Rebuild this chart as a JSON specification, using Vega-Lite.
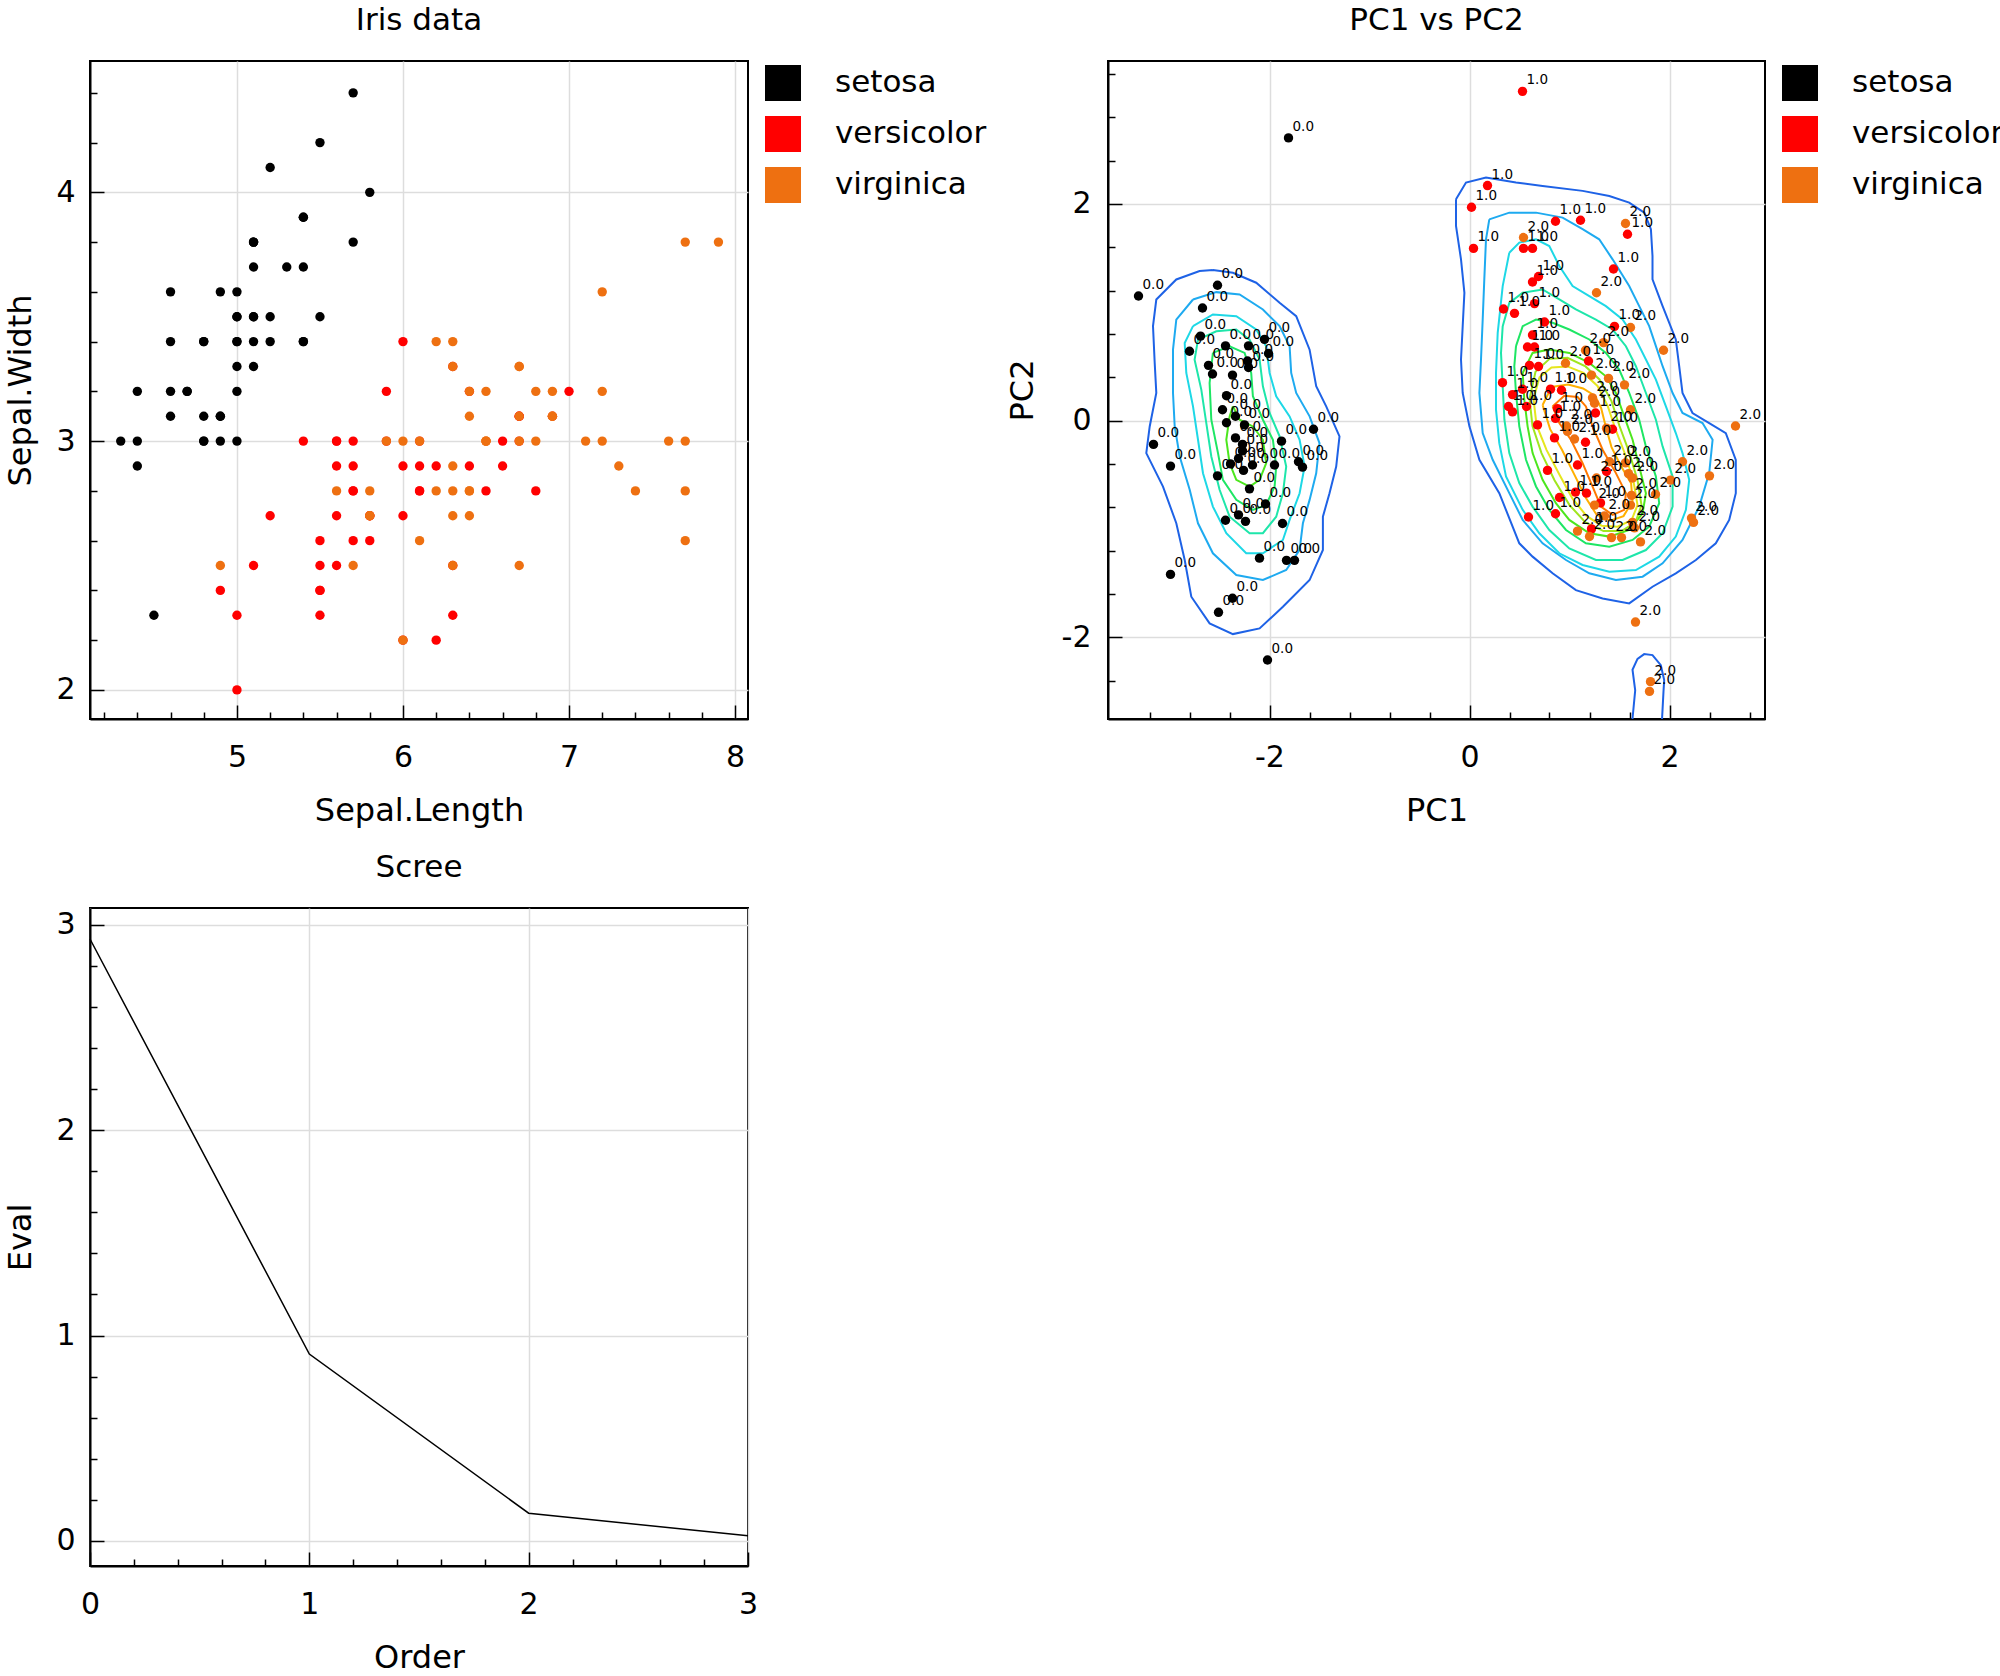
{
"$schema": "https://vega.github.io/schema/vega-lite/v6.json",
"padding": {"left": 3, "top": 4, "right": 0, "bottom": 0},
"background": "white",
"config": {
 "font": "DejaVu Sans",
 "view": {"stroke": "black", "strokeWidth": 2},
 "axis": {"labelFont": "DejaVu Sans", "titleFont": "DejaVu Sans", "labelFontSize": 30, "titleFontSize": 32, "titleFontWeight": "normal", "labelColor": "black", "titleColor": "black", "domainColor": "black", "domainWidth": 2, "tickColor": "black", "tickWidth": 1.5, "gridColor": "#dddddd", "gridWidth": 1.5, "labelFlush": false, "labelOverlap": false},
 "legend": {"symbolType": "square", "symbolSize": 1296, "labelFontSize": 31, "labelFont": "DejaVu Sans", "labelColor": "black", "offset": 13, "rowPadding": 15, "labelOffset": 34, "symbolStrokeWidth": 0, "padding": 4, "labelLimit": 400, "symbolOpacity": 1},
 "title": {"fontSize": 31, "fontWeight": "normal", "color": "black", "baseline": "alphabetic", "offset": 24, "font": "DejaVu Sans"}
},
"datasets": {
 "iris": [
  {"SepalLength":5.1,"SepalWidth":3.5,"Species":"setosa"},{"SepalLength":4.9,"SepalWidth":3.0,"Species":"setosa"},{"SepalLength":4.7,"SepalWidth":3.2,"Species":"setosa"},{"SepalLength":4.6,"SepalWidth":3.1,"Species":"setosa"},{"SepalLength":5.0,"SepalWidth":3.6,"Species":"setosa"},{"SepalLength":5.4,"SepalWidth":3.9,"Species":"setosa"},{"SepalLength":4.6,"SepalWidth":3.4,"Species":"setosa"},{"SepalLength":5.0,"SepalWidth":3.4,"Species":"setosa"},{"SepalLength":4.4,"SepalWidth":2.9,"Species":"setosa"},{"SepalLength":4.9,"SepalWidth":3.1,"Species":"setosa"},
  {"SepalLength":5.4,"SepalWidth":3.7,"Species":"setosa"},{"SepalLength":4.8,"SepalWidth":3.4,"Species":"setosa"},{"SepalLength":4.8,"SepalWidth":3.0,"Species":"setosa"},{"SepalLength":4.3,"SepalWidth":3.0,"Species":"setosa"},{"SepalLength":5.8,"SepalWidth":4.0,"Species":"setosa"},{"SepalLength":5.7,"SepalWidth":4.4,"Species":"setosa"},{"SepalLength":5.4,"SepalWidth":3.9,"Species":"setosa"},{"SepalLength":5.1,"SepalWidth":3.5,"Species":"setosa"},{"SepalLength":5.7,"SepalWidth":3.8,"Species":"setosa"},{"SepalLength":5.1,"SepalWidth":3.8,"Species":"setosa"},
  {"SepalLength":5.4,"SepalWidth":3.4,"Species":"setosa"},{"SepalLength":5.1,"SepalWidth":3.7,"Species":"setosa"},{"SepalLength":4.6,"SepalWidth":3.6,"Species":"setosa"},{"SepalLength":5.1,"SepalWidth":3.3,"Species":"setosa"},{"SepalLength":4.8,"SepalWidth":3.4,"Species":"setosa"},{"SepalLength":5.0,"SepalWidth":3.0,"Species":"setosa"},{"SepalLength":5.0,"SepalWidth":3.4,"Species":"setosa"},{"SepalLength":5.2,"SepalWidth":3.5,"Species":"setosa"},{"SepalLength":5.2,"SepalWidth":3.4,"Species":"setosa"},{"SepalLength":4.7,"SepalWidth":3.2,"Species":"setosa"},
  {"SepalLength":4.8,"SepalWidth":3.1,"Species":"setosa"},{"SepalLength":5.4,"SepalWidth":3.4,"Species":"setosa"},{"SepalLength":5.2,"SepalWidth":4.1,"Species":"setosa"},{"SepalLength":5.5,"SepalWidth":4.2,"Species":"setosa"},{"SepalLength":4.9,"SepalWidth":3.1,"Species":"setosa"},{"SepalLength":5.0,"SepalWidth":3.2,"Species":"setosa"},{"SepalLength":5.5,"SepalWidth":3.5,"Species":"setosa"},{"SepalLength":4.9,"SepalWidth":3.6,"Species":"setosa"},{"SepalLength":4.4,"SepalWidth":3.0,"Species":"setosa"},{"SepalLength":5.1,"SepalWidth":3.4,"Species":"setosa"},
  {"SepalLength":5.0,"SepalWidth":3.5,"Species":"setosa"},{"SepalLength":4.5,"SepalWidth":2.3,"Species":"setosa"},{"SepalLength":4.4,"SepalWidth":3.2,"Species":"setosa"},{"SepalLength":5.0,"SepalWidth":3.5,"Species":"setosa"},{"SepalLength":5.1,"SepalWidth":3.8,"Species":"setosa"},{"SepalLength":4.8,"SepalWidth":3.0,"Species":"setosa"},{"SepalLength":5.1,"SepalWidth":3.8,"Species":"setosa"},{"SepalLength":4.6,"SepalWidth":3.2,"Species":"setosa"},{"SepalLength":5.3,"SepalWidth":3.7,"Species":"setosa"},{"SepalLength":5.0,"SepalWidth":3.3,"Species":"setosa"},
  {"SepalLength":7.0,"SepalWidth":3.2,"Species":"versicolor"},{"SepalLength":6.4,"SepalWidth":3.2,"Species":"versicolor"},{"SepalLength":6.9,"SepalWidth":3.1,"Species":"versicolor"},{"SepalLength":5.5,"SepalWidth":2.3,"Species":"versicolor"},{"SepalLength":6.5,"SepalWidth":2.8,"Species":"versicolor"},{"SepalLength":5.7,"SepalWidth":2.8,"Species":"versicolor"},{"SepalLength":6.3,"SepalWidth":3.3,"Species":"versicolor"},{"SepalLength":4.9,"SepalWidth":2.4,"Species":"versicolor"},{"SepalLength":6.6,"SepalWidth":2.9,"Species":"versicolor"},{"SepalLength":5.2,"SepalWidth":2.7,"Species":"versicolor"},
  {"SepalLength":5.0,"SepalWidth":2.0,"Species":"versicolor"},{"SepalLength":5.9,"SepalWidth":3.0,"Species":"versicolor"},{"SepalLength":6.0,"SepalWidth":2.2,"Species":"versicolor"},{"SepalLength":6.1,"SepalWidth":2.9,"Species":"versicolor"},{"SepalLength":5.6,"SepalWidth":2.9,"Species":"versicolor"},{"SepalLength":6.7,"SepalWidth":3.1,"Species":"versicolor"},{"SepalLength":5.6,"SepalWidth":3.0,"Species":"versicolor"},{"SepalLength":5.8,"SepalWidth":2.7,"Species":"versicolor"},{"SepalLength":6.2,"SepalWidth":2.2,"Species":"versicolor"},{"SepalLength":5.6,"SepalWidth":2.5,"Species":"versicolor"},
  {"SepalLength":5.9,"SepalWidth":3.2,"Species":"versicolor"},{"SepalLength":6.1,"SepalWidth":2.8,"Species":"versicolor"},{"SepalLength":6.3,"SepalWidth":2.5,"Species":"versicolor"},{"SepalLength":6.1,"SepalWidth":2.8,"Species":"versicolor"},{"SepalLength":6.4,"SepalWidth":2.9,"Species":"versicolor"},{"SepalLength":6.6,"SepalWidth":3.0,"Species":"versicolor"},{"SepalLength":6.8,"SepalWidth":2.8,"Species":"versicolor"},{"SepalLength":6.7,"SepalWidth":3.0,"Species":"versicolor"},{"SepalLength":6.0,"SepalWidth":2.9,"Species":"versicolor"},{"SepalLength":5.7,"SepalWidth":2.6,"Species":"versicolor"},
  {"SepalLength":5.5,"SepalWidth":2.4,"Species":"versicolor"},{"SepalLength":5.5,"SepalWidth":2.4,"Species":"versicolor"},{"SepalLength":5.8,"SepalWidth":2.7,"Species":"versicolor"},{"SepalLength":6.0,"SepalWidth":2.7,"Species":"versicolor"},{"SepalLength":5.4,"SepalWidth":3.0,"Species":"versicolor"},{"SepalLength":6.0,"SepalWidth":3.4,"Species":"versicolor"},{"SepalLength":6.7,"SepalWidth":3.1,"Species":"versicolor"},{"SepalLength":6.3,"SepalWidth":2.3,"Species":"versicolor"},{"SepalLength":5.6,"SepalWidth":3.0,"Species":"versicolor"},{"SepalLength":5.5,"SepalWidth":2.5,"Species":"versicolor"},
  {"SepalLength":5.5,"SepalWidth":2.6,"Species":"versicolor"},{"SepalLength":6.1,"SepalWidth":3.0,"Species":"versicolor"},{"SepalLength":5.8,"SepalWidth":2.6,"Species":"versicolor"},{"SepalLength":5.0,"SepalWidth":2.3,"Species":"versicolor"},{"SepalLength":5.6,"SepalWidth":2.7,"Species":"versicolor"},{"SepalLength":5.7,"SepalWidth":3.0,"Species":"versicolor"},{"SepalLength":5.7,"SepalWidth":2.9,"Species":"versicolor"},{"SepalLength":6.2,"SepalWidth":2.9,"Species":"versicolor"},{"SepalLength":5.1,"SepalWidth":2.5,"Species":"versicolor"},{"SepalLength":5.7,"SepalWidth":2.8,"Species":"versicolor"},
  {"SepalLength":6.3,"SepalWidth":3.3,"Species":"virginica"},{"SepalLength":5.8,"SepalWidth":2.7,"Species":"virginica"},{"SepalLength":7.1,"SepalWidth":3.0,"Species":"virginica"},{"SepalLength":6.3,"SepalWidth":2.9,"Species":"virginica"},{"SepalLength":6.5,"SepalWidth":3.0,"Species":"virginica"},{"SepalLength":7.6,"SepalWidth":3.0,"Species":"virginica"},{"SepalLength":4.9,"SepalWidth":2.5,"Species":"virginica"},{"SepalLength":7.3,"SepalWidth":2.9,"Species":"virginica"},{"SepalLength":6.7,"SepalWidth":2.5,"Species":"virginica"},{"SepalLength":7.2,"SepalWidth":3.6,"Species":"virginica"},
  {"SepalLength":6.5,"SepalWidth":3.2,"Species":"virginica"},{"SepalLength":6.4,"SepalWidth":2.7,"Species":"virginica"},{"SepalLength":6.8,"SepalWidth":3.0,"Species":"virginica"},{"SepalLength":5.7,"SepalWidth":2.5,"Species":"virginica"},{"SepalLength":5.8,"SepalWidth":2.8,"Species":"virginica"},{"SepalLength":6.4,"SepalWidth":3.2,"Species":"virginica"},{"SepalLength":6.5,"SepalWidth":3.0,"Species":"virginica"},{"SepalLength":7.7,"SepalWidth":3.8,"Species":"virginica"},{"SepalLength":7.7,"SepalWidth":2.6,"Species":"virginica"},{"SepalLength":6.0,"SepalWidth":2.2,"Species":"virginica"},
  {"SepalLength":6.9,"SepalWidth":3.2,"Species":"virginica"},{"SepalLength":5.6,"SepalWidth":2.8,"Species":"virginica"},{"SepalLength":7.7,"SepalWidth":2.8,"Species":"virginica"},{"SepalLength":6.3,"SepalWidth":2.7,"Species":"virginica"},{"SepalLength":6.7,"SepalWidth":3.3,"Species":"virginica"},{"SepalLength":7.2,"SepalWidth":3.2,"Species":"virginica"},{"SepalLength":6.2,"SepalWidth":2.8,"Species":"virginica"},{"SepalLength":6.1,"SepalWidth":3.0,"Species":"virginica"},{"SepalLength":6.4,"SepalWidth":2.8,"Species":"virginica"},{"SepalLength":7.2,"SepalWidth":3.0,"Species":"virginica"},
  {"SepalLength":7.4,"SepalWidth":2.8,"Species":"virginica"},{"SepalLength":7.9,"SepalWidth":3.8,"Species":"virginica"},{"SepalLength":6.4,"SepalWidth":2.8,"Species":"virginica"},{"SepalLength":6.3,"SepalWidth":2.8,"Species":"virginica"},{"SepalLength":6.1,"SepalWidth":2.6,"Species":"virginica"},{"SepalLength":7.7,"SepalWidth":3.0,"Species":"virginica"},{"SepalLength":6.3,"SepalWidth":3.4,"Species":"virginica"},{"SepalLength":6.4,"SepalWidth":3.1,"Species":"virginica"},{"SepalLength":6.0,"SepalWidth":3.0,"Species":"virginica"},{"SepalLength":6.9,"SepalWidth":3.1,"Species":"virginica"},
  {"SepalLength":6.7,"SepalWidth":3.1,"Species":"virginica"},{"SepalLength":6.9,"SepalWidth":3.1,"Species":"virginica"},{"SepalLength":5.8,"SepalWidth":2.7,"Species":"virginica"},{"SepalLength":6.8,"SepalWidth":3.2,"Species":"virginica"},{"SepalLength":6.7,"SepalWidth":3.3,"Species":"virginica"},{"SepalLength":6.7,"SepalWidth":3.0,"Species":"virginica"},{"SepalLength":6.3,"SepalWidth":2.5,"Species":"virginica"},{"SepalLength":6.5,"SepalWidth":3.0,"Species":"virginica"},{"SepalLength":6.2,"SepalWidth":3.4,"Species":"virginica"},{"SepalLength":5.9,"SepalWidth":3.0,"Species":"virginica"}
 ],
 "pca": [
  {"PC1":-3.31,"PC2":1.15,"Species":"setosa","code":"0.0"},{"PC1":-2.52,"PC2":1.25,"Species":"setosa","code":"0.0"},{"PC1":-2.67,"PC2":1.04,"Species":"setosa","code":"0.0"},{"PC1":-2.69,"PC2":0.78,"Species":"setosa","code":"0.0"},{"PC1":-2.80,"PC2":0.64,"Species":"setosa","code":"0.0"},{"PC1":-2.44,"PC2":0.69,"Species":"setosa","code":"0.0"},{"PC1":-2.21,"PC2":0.69,"Species":"setosa","code":"0.0"},{"PC1":-2.05,"PC2":0.75,"Species":"setosa","code":"0.0"},{"PC1":-2.01,"PC2":0.62,"Species":"setosa","code":"0.0"},{"PC1":-2.22,"PC2":0.55,"Species":"setosa","code":"0.0"},
  {"PC1":-2.21,"PC2":0.49,"Species":"setosa","code":"0.0"},{"PC1":-2.61,"PC2":0.51,"Species":"setosa","code":"0.0"},{"PC1":-2.57,"PC2":0.43,"Species":"setosa","code":"0.0"},{"PC1":-2.37,"PC2":0.42,"Species":"setosa","code":"0.0"},{"PC1":-2.43,"PC2":0.23,"Species":"setosa","code":"0.0"},{"PC1":-2.47,"PC2":0.10,"Species":"setosa","code":"0.0"},{"PC1":-2.34,"PC2":0.04,"Species":"setosa","code":"0.0"},{"PC1":-2.43,"PC2":-0.02,"Species":"setosa","code":"0.0"},{"PC1":-2.25,"PC2":-0.04,"Species":"setosa","code":"0.0"},{"PC1":-2.34,"PC2":-0.16,"Species":"setosa","code":"0.0"},
  {"PC1":-2.27,"PC2":-0.22,"Species":"setosa","code":"0.0"},{"PC1":-2.27,"PC2":-0.28,"Species":"setosa","code":"0.0"},{"PC1":-2.31,"PC2":-0.35,"Species":"setosa","code":"0.0"},{"PC1":-2.39,"PC2":-0.40,"Species":"setosa","code":"0.0"},{"PC1":-2.17,"PC2":-0.41,"Species":"setosa","code":"0.0"},{"PC1":-2.26,"PC2":-0.46,"Species":"setosa","code":"0.0"},{"PC1":-1.95,"PC2":-0.41,"Species":"setosa","code":"0.0"},{"PC1":-1.88,"PC2":-0.19,"Species":"setosa","code":"0.0"},{"PC1":-1.71,"PC2":-0.38,"Species":"setosa","code":"0.0"},{"PC1":-1.67,"PC2":-0.43,"Species":"setosa","code":"0.0"},
  {"PC1":-1.56,"PC2":-0.08,"Species":"setosa","code":"0.0"},{"PC1":-3.16,"PC2":-0.22,"Species":"setosa","code":"0.0"},{"PC1":-2.99,"PC2":-0.42,"Species":"setosa","code":"0.0"},{"PC1":-2.52,"PC2":-0.51,"Species":"setosa","code":"0.0"},{"PC1":-2.20,"PC2":-0.63,"Species":"setosa","code":"0.0"},{"PC1":-2.04,"PC2":-0.77,"Species":"setosa","code":"0.0"},{"PC1":-2.31,"PC2":-0.87,"Species":"setosa","code":"0.0"},{"PC1":-2.24,"PC2":-0.93,"Species":"setosa","code":"0.0"},{"PC1":-2.44,"PC2":-0.92,"Species":"setosa","code":"0.0"},{"PC1":-1.87,"PC2":-0.95,"Species":"setosa","code":"0.0"},
  {"PC1":-2.10,"PC2":-1.27,"Species":"setosa","code":"0.0"},{"PC1":-1.83,"PC2":-1.29,"Species":"setosa","code":"0.0"},{"PC1":-1.75,"PC2":-1.29,"Species":"setosa","code":"0.0"},{"PC1":-2.99,"PC2":-1.42,"Species":"setosa","code":"0.0"},{"PC1":-2.37,"PC2":-1.64,"Species":"setosa","code":"0.0"},{"PC1":-2.51,"PC2":-1.77,"Species":"setosa","code":"0.0"},{"PC1":-2.02,"PC2":-2.21,"Species":"setosa","code":"0.0"},{"PC1":-1.81,"PC2":2.61,"Species":"setosa","code":"0.0"},
  {"PC1":0.53,"PC2":3.04,"Species":"versicolor","code":"1.0"},{"PC1":0.18,"PC2":2.17,"Species":"versicolor","code":"1.0"},{"PC1":0.02,"PC2":1.97,"Species":"versicolor","code":"1.0"},{"PC1":0.04,"PC2":1.59,"Species":"versicolor","code":"1.0"},{"PC1":0.86,"PC2":1.84,"Species":"versicolor","code":"1.0"},{"PC1":1.11,"PC2":1.85,"Species":"versicolor","code":"1.0"},{"PC1":1.58,"PC2":1.72,"Species":"versicolor","code":"1.0"},{"PC1":0.54,"PC2":1.59,"Species":"versicolor","code":"1.0"},{"PC1":0.63,"PC2":1.59,"Species":"versicolor","code":"1.0"},{"PC1":1.44,"PC2":1.40,"Species":"versicolor","code":"1.0"},
  {"PC1":0.69,"PC2":1.33,"Species":"versicolor","code":"1.0"},{"PC1":0.63,"PC2":1.28,"Species":"versicolor","code":"1.0"},{"PC1":0.34,"PC2":1.03,"Species":"versicolor","code":"1.0"},{"PC1":0.45,"PC2":0.99,"Species":"versicolor","code":"1.0"},{"PC1":0.65,"PC2":1.08,"Species":"versicolor","code":"1.0"},{"PC1":0.75,"PC2":0.91,"Species":"versicolor","code":"1.0"},{"PC1":1.45,"PC2":0.87,"Species":"versicolor","code":"1.0"},{"PC1":0.63,"PC2":0.79,"Species":"versicolor","code":"1.0"},{"PC1":0.58,"PC2":0.68,"Species":"versicolor","code":"1.0"},{"PC1":0.65,"PC2":0.68,"Species":"versicolor","code":"1.0"},
  {"PC1":1.19,"PC2":0.55,"Species":"versicolor","code":"1.0"},{"PC1":0.60,"PC2":0.51,"Species":"versicolor","code":"1.0"},{"PC1":0.69,"PC2":0.50,"Species":"versicolor","code":"1.0"},{"PC1":0.33,"PC2":0.35,"Species":"versicolor","code":"1.0"},{"PC1":0.53,"PC2":0.29,"Species":"versicolor","code":"1.0"},{"PC1":0.81,"PC2":0.29,"Species":"versicolor","code":"1.0"},{"PC1":0.92,"PC2":0.28,"Species":"versicolor","code":"1.0"},{"PC1":0.43,"PC2":0.24,"Species":"versicolor","code":"1.0"},{"PC1":0.39,"PC2":0.13,"Species":"versicolor","code":"1.0"},{"PC1":0.57,"PC2":0.13,"Species":"versicolor","code":"1.0"},
  {"PC1":0.88,"PC2":0.11,"Species":"versicolor","code":"1.0"},{"PC1":0.43,"PC2":0.08,"Species":"versicolor","code":"1.0"},{"PC1":1.26,"PC2":0.07,"Species":"versicolor","code":"1.0"},{"PC1":0.86,"PC2":0.02,"Species":"versicolor","code":"1.0"},{"PC1":0.68,"PC2":-0.04,"Species":"versicolor","code":"1.0"},{"PC1":1.43,"PC2":-0.08,"Species":"versicolor","code":"1.0"},{"PC1":0.85,"PC2":-0.16,"Species":"versicolor","code":"1.0"},{"PC1":1.16,"PC2":-0.20,"Species":"versicolor","code":"1.0"},{"PC1":0.78,"PC2":-0.46,"Species":"versicolor","code":"1.0"},{"PC1":1.37,"PC2":-0.47,"Species":"versicolor","code":"1.0"},
  {"PC1":1.08,"PC2":-0.41,"Species":"versicolor","code":"1.0"},{"PC1":1.06,"PC2":-0.66,"Species":"versicolor","code":"1.0"},{"PC1":1.17,"PC2":-0.67,"Species":"versicolor","code":"1.0"},{"PC1":0.90,"PC2":-0.71,"Species":"versicolor","code":"1.0"},{"PC1":1.31,"PC2":-0.76,"Species":"versicolor","code":"1.0"},{"PC1":0.86,"PC2":-0.86,"Species":"versicolor","code":"1.0"},{"PC1":0.59,"PC2":-0.89,"Species":"versicolor","code":"1.0"},{"PC1":1.22,"PC2":-1.00,"Species":"versicolor","code":"1.0"},
  {"PC1":1.56,"PC2":1.82,"Species":"virginica","code":"2.0"},{"PC1":0.54,"PC2":1.69,"Species":"virginica","code":"2.0"},{"PC1":1.27,"PC2":1.18,"Species":"virginica","code":"2.0"},{"PC1":1.61,"PC2":0.86,"Species":"virginica","code":"2.0"},{"PC1":1.34,"PC2":0.72,"Species":"virginica","code":"2.0"},{"PC1":1.94,"PC2":0.65,"Species":"virginica","code":"2.0"},{"PC1":1.16,"PC2":0.65,"Species":"virginica","code":"2.0"},{"PC1":0.96,"PC2":0.53,"Species":"virginica","code":"2.0"},{"PC1":1.22,"PC2":0.42,"Species":"virginica","code":"2.0"},{"PC1":1.39,"PC2":0.39,"Species":"virginica","code":"2.0"},
  {"PC1":1.55,"PC2":0.33,"Species":"virginica","code":"2.0"},{"PC1":1.23,"PC2":0.21,"Species":"virginica","code":"2.0"},{"PC1":1.25,"PC2":0.16,"Species":"virginica","code":"2.0"},{"PC1":1.61,"PC2":0.10,"Species":"virginica","code":"2.0"},{"PC1":2.66,"PC2":-0.05,"Species":"virginica","code":"2.0"},{"PC1":0.97,"PC2":-0.05,"Species":"virginica","code":"2.0"},{"PC1":0.98,"PC2":-0.10,"Species":"virginica","code":"2.0"},{"PC1":1.37,"PC2":-0.07,"Species":"virginica","code":"2.0"},{"PC1":1.05,"PC2":-0.17,"Species":"virginica","code":"2.0"},{"PC1":2.13,"PC2":-0.38,"Species":"virginica","code":"2.0"},
  {"PC1":1.40,"PC2":-0.38,"Species":"virginica","code":"2.0"},{"PC1":1.56,"PC2":-0.39,"Species":"virginica","code":"2.0"},{"PC1":1.59,"PC2":-0.49,"Species":"virginica","code":"2.0"},{"PC1":1.63,"PC2":-0.53,"Species":"virginica","code":"2.0"},{"PC1":2.40,"PC2":-0.51,"Species":"virginica","code":"2.0"},{"PC1":1.27,"PC2":-0.53,"Species":"virginica","code":"2.0"},{"PC1":2.01,"PC2":-0.55,"Species":"virginica","code":"2.0"},{"PC1":1.86,"PC2":-0.68,"Species":"virginica","code":"2.0"},{"PC1":1.62,"PC2":-0.69,"Species":"virginica","code":"2.0"},{"PC1":1.25,"PC2":-0.78,"Species":"virginica","code":"2.0"},
  {"PC1":1.61,"PC2":-0.78,"Species":"virginica","code":"2.0"},{"PC1":1.35,"PC2":-0.88,"Species":"virginica","code":"2.0"},{"PC1":2.22,"PC2":-0.90,"Species":"virginica","code":"2.0"},{"PC1":2.24,"PC2":-0.94,"Species":"virginica","code":"2.0"},{"PC1":1.63,"PC2":-0.94,"Species":"virginica","code":"2.0"},{"PC1":1.65,"PC2":-0.99,"Species":"virginica","code":"2.0"},{"PC1":1.08,"PC2":-1.02,"Species":"virginica","code":"2.0"},{"PC1":1.20,"PC2":-1.07,"Species":"virginica","code":"2.0"},{"PC1":1.42,"PC2":-1.08,"Species":"virginica","code":"2.0"},{"PC1":1.52,"PC2":-1.08,"Species":"virginica","code":"2.0"},
  {"PC1":1.71,"PC2":-1.12,"Species":"virginica","code":"2.0"},{"PC1":1.66,"PC2":-1.86,"Species":"virginica","code":"2.0"},{"PC1":1.81,"PC2":-2.41,"Species":"virginica","code":"2.0"},{"PC1":1.80,"PC2":-2.50,"Species":"virginica","code":"2.0"}
 ],
 "contours": [
  {"c":"s1","lv":"1","x":-2.566,"y":1.390},{"c":"s1","lv":"1","x":-2.366,"y":1.365},{"c":"s1","lv":"1","x":-2.133,"y":1.273},{"c":"s1","lv":"1","x":-1.899,"y":1.088},{"c":"s1","lv":"1","x":-1.733,"y":0.964},{"c":"s1","lv":"1","x":-1.599,"y":0.655},{"c":"s1","lv":"1","x":-1.533,"y":0.317},{"c":"s1","lv":"1","x":-1.433,"y":0.132},{"c":"s1","lv":"1","x":-1.300,"y":-0.146},{"c":"s1","lv":"1","x":-1.333,"y":-0.424},{"c":"s1","lv":"1","x":-1.400,"y":-0.671},{"c":"s1","lv":"1","x":-1.466,"y":-0.887},{"c":"s1","lv":"1","x":-1.466,"y":-1.194},{"c":"s1","lv":"1","x":-1.599,"y":-1.472},{"c":"s1","lv":"1","x":-1.866,"y":-1.719},{"c":"s1","lv":"1","x":-2.099,"y":-1.919},{"c":"s1","lv":"1","x":-2.366,"y":-1.971},{"c":"s1","lv":"1","x":-2.599,"y":-1.872},{"c":"s1","lv":"1","x":-2.782,"y":-1.626},{"c":"s1","lv":"1","x":-2.848,"y":-1.287},{"c":"s1","lv":"1","x":-2.932,"y":-0.948},{"c":"s1","lv":"1","x":-3.065,"y":-0.609},{"c":"s1","lv":"1","x":-3.232,"y":-0.300},{"c":"s1","lv":"1","x":-3.198,"y":-0.054},{"c":"s1","lv":"1","x":-3.132,"y":0.255},{"c":"s1","lv":"1","x":-3.148,"y":0.533},{"c":"s1","lv":"1","x":-3.165,"y":0.872},{"c":"s1","lv":"1","x":-3.132,"y":1.118},{"c":"s1","lv":"1","x":-2.932,"y":1.303},{"c":"s1","lv":"1","x":-2.699,"y":1.381},{"c":"s1","lv":"1","x":-2.566,"y":1.390},
  {"c":"s2","lv":"2","x":-2.765,"y":1.118},{"c":"s2","lv":"2","x":-2.532,"y":1.186},{"c":"s2","lv":"2","x":-2.299,"y":1.165},{"c":"s2","lv":"2","x":-2.066,"y":1.026},{"c":"s2","lv":"2","x":-1.899,"y":0.872},{"c":"s2","lv":"2","x":-1.799,"y":0.686},{"c":"s2","lv":"2","x":-1.783,"y":0.440},{"c":"s2","lv":"2","x":-1.733,"y":0.255},{"c":"s2","lv":"2","x":-1.599,"y":0.039},{"c":"s2","lv":"2","x":-1.500,"y":-0.208},{"c":"s2","lv":"2","x":-1.533,"y":-0.486},{"c":"s2","lv":"2","x":-1.599,"y":-0.732},{"c":"s2","lv":"2","x":-1.666,"y":-0.948},{"c":"s2","lv":"2","x":-1.699,"y":-1.194},{"c":"s2","lv":"2","x":-1.833,"y":-1.379},{"c":"s2","lv":"2","x":-2.066,"y":-1.472},{"c":"s2","lv":"2","x":-2.332,"y":-1.426},{"c":"s2","lv":"2","x":-2.566,"y":-1.225},{"c":"s2","lv":"2","x":-2.715,"y":-0.948},{"c":"s2","lv":"2","x":-2.798,"y":-0.639},{"c":"s2","lv":"2","x":-2.898,"y":-0.331},{"c":"s2","lv":"2","x":-2.948,"y":-0.054},{"c":"s2","lv":"2","x":-2.965,"y":0.255},{"c":"s2","lv":"2","x":-2.965,"y":0.655},{"c":"s2","lv":"2","x":-2.932,"y":0.933},{"c":"s2","lv":"2","x":-2.765,"y":1.118},
  {"c":"s3","lv":"3","x":-2.765,"y":0.872},{"c":"s3","lv":"3","x":-2.566,"y":0.980},{"c":"s3","lv":"3","x":-2.332,"y":0.964},{"c":"s3","lv":"3","x":-2.133,"y":0.841},{"c":"s3","lv":"3","x":-2.033,"y":0.686},{"c":"s3","lv":"3","x":-1.999,"y":0.440},{"c":"s3","lv":"3","x":-1.933,"y":0.225},{"c":"s3","lv":"3","x":-1.799,"y":0.039},{"c":"s3","lv":"3","x":-1.699,"y":-0.177},{"c":"s3","lv":"3","x":-1.649,"y":-0.424},{"c":"s3","lv":"3","x":-1.699,"y":-0.671},{"c":"s3","lv":"3","x":-1.799,"y":-0.917},{"c":"s3","lv":"3","x":-1.866,"y":-1.102},{"c":"s3","lv":"3","x":-2.066,"y":-1.225},{"c":"s3","lv":"3","x":-2.233,"y":-1.225},{"c":"s3","lv":"3","x":-2.432,"y":-1.040},{"c":"s3","lv":"3","x":-2.566,"y":-0.794},{"c":"s3","lv":"3","x":-2.665,"y":-0.486},{"c":"s3","lv":"3","x":-2.715,"y":-0.177},{"c":"s3","lv":"3","x":-2.765,"y":0.132},{"c":"s3","lv":"3","x":-2.832,"y":0.440},{"c":"s3","lv":"3","x":-2.848,"y":0.717},{"c":"s3","lv":"3","x":-2.765,"y":0.872},
  {"c":"s4","lv":"4","x":-2.715,"y":0.748},{"c":"s4","lv":"4","x":-2.532,"y":0.825},{"c":"s4","lv":"4","x":-2.332,"y":0.841},{"c":"s4","lv":"4","x":-2.199,"y":0.748},{"c":"s4","lv":"4","x":-2.099,"y":0.563},{"c":"s4","lv":"4","x":-2.066,"y":0.317},{"c":"s4","lv":"4","x":-1.999,"y":0.070},{"c":"s4","lv":"4","x":-1.899,"y":-0.146},{"c":"s4","lv":"4","x":-1.833,"y":-0.424},{"c":"s4","lv":"4","x":-1.866,"y":-0.671},{"c":"s4","lv":"4","x":-1.933,"y":-0.887},{"c":"s4","lv":"4","x":-2.066,"y":-1.040},{"c":"s4","lv":"4","x":-2.199,"y":-1.040},{"c":"s4","lv":"4","x":-2.399,"y":-0.887},{"c":"s4","lv":"4","x":-2.499,"y":-0.639},{"c":"s4","lv":"4","x":-2.582,"y":-0.331},{"c":"s4","lv":"4","x":-2.632,"y":-0.024},{"c":"s4","lv":"4","x":-2.682,"y":0.286},{"c":"s4","lv":"4","x":-2.749,"y":0.563},{"c":"s4","lv":"4","x":-2.715,"y":0.748},
  {"c":"s5","lv":"5","x":-2.566,"y":0.625},{"c":"s5","lv":"5","x":-2.399,"y":0.686},{"c":"s5","lv":"5","x":-2.249,"y":0.625},{"c":"s5","lv":"5","x":-2.183,"y":0.440},{"c":"s5","lv":"5","x":-2.166,"y":0.225},{"c":"s5","lv":"5","x":-2.066,"y":0.008},{"c":"s5","lv":"5","x":-1.966,"y":-0.177},{"c":"s5","lv":"5","x":-1.933,"y":-0.424},{"c":"s5","lv":"5","x":-1.949,"y":-0.609},{"c":"s5","lv":"5","x":-2.033,"y":-0.778},{"c":"s5","lv":"5","x":-2.166,"y":-0.825},{"c":"s5","lv":"5","x":-2.332,"y":-0.732},{"c":"s5","lv":"5","x":-2.466,"y":-0.547},{"c":"s5","lv":"5","x":-2.515,"y":-0.300},{"c":"s5","lv":"5","x":-2.582,"y":0.008},{"c":"s5","lv":"5","x":-2.599,"y":0.347},{"c":"s5","lv":"5","x":-2.566,"y":0.625},
  {"c":"s6","lv":"6","x":-2.366,"y":0.132},{"c":"s6","lv":"6","x":-2.299,"y":0.008},{"c":"s6","lv":"6","x":-2.166,"y":-0.054},{"c":"s6","lv":"6","x":-2.066,"y":-0.177},{"c":"s6","lv":"6","x":-2.033,"y":-0.393},{"c":"s6","lv":"6","x":-2.099,"y":-0.547},{"c":"s6","lv":"6","x":-2.199,"y":-0.609},{"c":"s6","lv":"6","x":-2.332,"y":-0.547},{"c":"s6","lv":"6","x":-2.399,"y":-0.393},{"c":"s6","lv":"6","x":-2.432,"y":-0.177},{"c":"s6","lv":"6","x":-2.399,"y":0.039},{"c":"s6","lv":"6","x":-2.366,"y":0.132},
  {"c":"r1","lv":"1","x":-0.135,"y":2.043},{"c":"r1","lv":"1","x":-0.035,"y":2.198},{"c":"r1","lv":"1","x":0.165,"y":2.244},{"c":"r1","lv":"1","x":0.465,"y":2.198},{"c":"r1","lv":"1","x":0.731,"y":2.167},{"c":"r1","lv":"1","x":1.131,"y":2.121},{"c":"r1","lv":"1","x":1.398,"y":2.074},{"c":"r1","lv":"1","x":1.597,"y":2.013},{"c":"r1","lv":"1","x":1.748,"y":1.920},{"c":"r1","lv":"1","x":1.814,"y":1.767},{"c":"r1","lv":"1","x":1.830,"y":1.520},{"c":"r1","lv":"1","x":1.830,"y":1.304},{"c":"r1","lv":"1","x":1.931,"y":1.057},{"c":"r1","lv":"1","x":2.063,"y":0.749},{"c":"r1","lv":"1","x":2.097,"y":0.502},{"c":"r1","lv":"1","x":2.130,"y":0.255},{"c":"r1","lv":"1","x":2.230,"y":0.070},{"c":"r1","lv":"1","x":2.397,"y":-0.023},{"c":"r1","lv":"1","x":2.563,"y":-0.115},{"c":"r1","lv":"1","x":2.663,"y":-0.362},{"c":"r1","lv":"1","x":2.663,"y":-0.670},{"c":"r1","lv":"1","x":2.597,"y":-0.917},{"c":"r1","lv":"1","x":2.463,"y":-1.133},{"c":"r1","lv":"1","x":2.264,"y":-1.287},{"c":"r1","lv":"1","x":2.063,"y":-1.410},{"c":"r1","lv":"1","x":1.830,"y":-1.534},{"c":"r1","lv":"1","x":1.597,"y":-1.688},{"c":"r1","lv":"1","x":1.331,"y":-1.642},{"c":"r1","lv":"1","x":1.064,"y":-1.565},{"c":"r1","lv":"1","x":0.831,"y":-1.410},{"c":"r1","lv":"1","x":0.631,"y":-1.256},{"c":"r1","lv":"1","x":0.498,"y":-1.133},{"c":"r1","lv":"1","x":0.298,"y":-0.670},{"c":"r1","lv":"1","x":0.099,"y":-0.362},{"c":"r1","lv":"1","x":-0.001,"y":-0.053},{"c":"r1","lv":"1","x":-0.068,"y":0.255},{"c":"r1","lv":"1","x":-0.085,"y":0.564},{"c":"r1","lv":"1","x":-0.068,"y":0.872},{"c":"r1","lv":"1","x":-0.051,"y":1.180},{"c":"r1","lv":"1","x":-0.085,"y":1.489},{"c":"r1","lv":"1","x":-0.135,"y":1.797},{"c":"r1","lv":"1","x":-0.135,"y":2.043},
  {"c":"r2","lv":"2","x":0.198,"y":1.858},{"c":"r2","lv":"2","x":0.398,"y":1.920},{"c":"r2","lv":"2","x":0.665,"y":1.920},{"c":"r2","lv":"2","x":0.931,"y":1.874},{"c":"r2","lv":"2","x":1.131,"y":1.767},{"c":"r2","lv":"2","x":1.297,"y":1.674},{"c":"r2","lv":"2","x":1.431,"y":1.489},{"c":"r2","lv":"2","x":1.597,"y":1.242},{"c":"r2","lv":"2","x":1.697,"y":1.057},{"c":"r2","lv":"2","x":1.797,"y":0.872},{"c":"r2","lv":"2","x":1.864,"y":0.687},{"c":"r2","lv":"2","x":1.931,"y":0.502},{"c":"r2","lv":"2","x":2.031,"y":0.255},{"c":"r2","lv":"2","x":2.130,"y":0.070},{"c":"r2","lv":"2","x":2.330,"y":-0.023},{"c":"r2","lv":"2","x":2.431,"y":-0.177},{"c":"r2","lv":"2","x":2.397,"y":-0.485},{"c":"r2","lv":"2","x":2.297,"y":-0.794},{"c":"r2","lv":"2","x":2.130,"y":-1.102},{"c":"r2","lv":"2","x":1.931,"y":-1.318},{"c":"r2","lv":"2","x":1.731,"y":-1.441},{"c":"r2","lv":"2","x":1.464,"y":-1.472},{"c":"r2","lv":"2","x":1.198,"y":-1.410},{"c":"r2","lv":"2","x":0.965,"y":-1.287},{"c":"r2","lv":"2","x":0.731,"y":-1.133},{"c":"r2","lv":"2","x":0.532,"y":-0.917},{"c":"r2","lv":"2","x":0.398,"y":-0.670},{"c":"r2","lv":"2","x":0.232,"y":-0.362},{"c":"r2","lv":"2","x":0.132,"y":-0.115},{"c":"r2","lv":"2","x":0.099,"y":0.255},{"c":"r2","lv":"2","x":0.115,"y":0.564},{"c":"r2","lv":"2","x":0.132,"y":0.933},{"c":"r2","lv":"2","x":0.148,"y":1.304},{"c":"r2","lv":"2","x":0.165,"y":1.674},{"c":"r2","lv":"2","x":0.198,"y":1.858},
  {"c":"r3","lv":"3","x":0.398,"y":1.550},{"c":"r3","lv":"3","x":0.498,"y":1.643},{"c":"r3","lv":"3","x":0.665,"y":1.674},{"c":"r3","lv":"3","x":0.798,"y":1.612},{"c":"r3","lv":"3","x":0.898,"y":1.427},{"c":"r3","lv":"3","x":1.031,"y":1.242},{"c":"r3","lv":"3","x":1.198,"y":1.149},{"c":"r3","lv":"3","x":1.364,"y":1.057},{"c":"r3","lv":"3","x":1.531,"y":0.933},{"c":"r3","lv":"3","x":1.664,"y":0.749},{"c":"r3","lv":"3","x":1.764,"y":0.564},{"c":"r3","lv":"3","x":1.864,"y":0.378},{"c":"r3","lv":"3","x":1.964,"y":0.132},{"c":"r3","lv":"3","x":2.063,"y":-0.115},{"c":"r3","lv":"3","x":2.130,"y":-0.300},{"c":"r3","lv":"3","x":2.197,"y":-0.547},{"c":"r3","lv":"3","x":2.164,"y":-0.824},{"c":"r3","lv":"3","x":2.063,"y":-1.071},{"c":"r3","lv":"3","x":1.897,"y":-1.256},{"c":"r3","lv":"3","x":1.664,"y":-1.380},{"c":"r3","lv":"3","x":1.398,"y":-1.395},{"c":"r3","lv":"3","x":1.131,"y":-1.333},{"c":"r3","lv":"3","x":0.898,"y":-1.225},{"c":"r3","lv":"3","x":0.698,"y":-1.040},{"c":"r3","lv":"3","x":0.532,"y":-0.824},{"c":"r3","lv":"3","x":0.365,"y":-0.516},{"c":"r3","lv":"3","x":0.298,"y":-0.208},{"c":"r3","lv":"3","x":0.265,"y":0.101},{"c":"r3","lv":"3","x":0.265,"y":0.440},{"c":"r3","lv":"3","x":0.282,"y":0.810},{"c":"r3","lv":"3","x":0.332,"y":1.242},{"c":"r3","lv":"3","x":0.398,"y":1.550},
  {"c":"r4","lv":"4","x":0.332,"y":0.872},{"c":"r4","lv":"4","x":0.398,"y":1.087},{"c":"r4","lv":"4","x":0.532,"y":1.180},{"c":"r4","lv":"4","x":0.731,"y":1.211},{"c":"r4","lv":"4","x":0.898,"y":1.119},{"c":"r4","lv":"4","x":1.064,"y":1.026},{"c":"r4","lv":"4","x":1.264,"y":0.933},{"c":"r4","lv":"4","x":1.431,"y":0.841},{"c":"r4","lv":"4","x":1.564,"y":0.687},{"c":"r4","lv":"4","x":1.664,"y":0.502},{"c":"r4","lv":"4","x":1.764,"y":0.255},{"c":"r4","lv":"4","x":1.864,"y":0.008},{"c":"r4","lv":"4","x":1.931,"y":-0.238},{"c":"r4","lv":"4","x":2.031,"y":-0.516},{"c":"r4","lv":"4","x":2.031,"y":-0.794},{"c":"r4","lv":"4","x":1.931,"y":-1.040},{"c":"r4","lv":"4","x":1.764,"y":-1.195},{"c":"r4","lv":"4","x":1.531,"y":-1.287},{"c":"r4","lv":"4","x":1.264,"y":-1.287},{"c":"r4","lv":"4","x":0.998,"y":-1.180},{"c":"r4","lv":"4","x":0.798,"y":-1.010},{"c":"r4","lv":"4","x":0.631,"y":-0.794},{"c":"r4","lv":"4","x":0.498,"y":-0.577},{"c":"r4","lv":"4","x":0.398,"y":-0.300},{"c":"r4","lv":"4","x":0.349,"y":0.008},{"c":"r4","lv":"4","x":0.332,"y":0.317},{"c":"r4","lv":"4","x":0.315,"y":0.625},{"c":"r4","lv":"4","x":0.332,"y":0.872},
  {"c":"r5","lv":"5","x":0.465,"y":0.687},{"c":"r5","lv":"5","x":0.532,"y":0.872},{"c":"r5","lv":"5","x":0.665,"y":0.933},{"c":"r5","lv":"5","x":0.831,"y":0.903},{"c":"r5","lv":"5","x":0.998,"y":0.841},{"c":"r5","lv":"5","x":1.198,"y":0.749},{"c":"r5","lv":"5","x":1.364,"y":0.625},{"c":"r5","lv":"5","x":1.497,"y":0.471},{"c":"r5","lv":"5","x":1.597,"y":0.255},{"c":"r5","lv":"5","x":1.697,"y":0.008},{"c":"r5","lv":"5","x":1.764,"y":-0.238},{"c":"r5","lv":"5","x":1.864,"y":-0.516},{"c":"r5","lv":"5","x":1.897,"y":-0.763},{"c":"r5","lv":"5","x":1.797,"y":-0.979},{"c":"r5","lv":"5","x":1.631,"y":-1.102},{"c":"r5","lv":"5","x":1.398,"y":-1.164},{"c":"r5","lv":"5","x":1.164,"y":-1.133},{"c":"r5","lv":"5","x":0.965,"y":-1.010},{"c":"r5","lv":"5","x":0.798,"y":-0.824},{"c":"r5","lv":"5","x":0.665,"y":-0.608},{"c":"r5","lv":"5","x":0.565,"y":-0.362},{"c":"r5","lv":"5","x":0.498,"y":-0.053},{"c":"r5","lv":"5","x":0.465,"y":0.255},{"c":"r5","lv":"5","x":0.448,"y":0.502},{"c":"r5","lv":"5","x":0.465,"y":0.687},
  {"c":"r6","lv":"6","x":0.532,"y":0.440},{"c":"r6","lv":"6","x":0.631,"y":0.625},{"c":"r6","lv":"6","x":0.798,"y":0.656},{"c":"r6","lv":"6","x":0.998,"y":0.625},{"c":"r6","lv":"6","x":1.198,"y":0.533},{"c":"r6","lv":"6","x":1.364,"y":0.409},{"c":"r6","lv":"6","x":1.464,"y":0.255},{"c":"r6","lv":"6","x":1.547,"y":0.039},{"c":"r6","lv":"6","x":1.631,"y":-0.177},{"c":"r6","lv":"6","x":1.697,"y":-0.424},{"c":"r6","lv":"6","x":1.764,"y":-0.670},{"c":"r6","lv":"6","x":1.731,"y":-0.855},{"c":"r6","lv":"6","x":1.597,"y":-1.010},{"c":"r6","lv":"6","x":1.398,"y":-1.071},{"c":"r6","lv":"6","x":1.198,"y":-1.040},{"c":"r6","lv":"6","x":0.998,"y":-0.917},{"c":"r6","lv":"6","x":0.864,"y":-0.763},{"c":"r6","lv":"6","x":0.731,"y":-0.547},{"c":"r6","lv":"6","x":0.631,"y":-0.300},{"c":"r6","lv":"6","x":0.581,"y":-0.053},{"c":"r6","lv":"6","x":0.548,"y":0.193},{"c":"r6","lv":"6","x":0.532,"y":0.440},
  {"c":"r7","lv":"7","x":0.60,"y":0.20},{"c":"r7","lv":"7","x":0.66,"y":0.45},{"c":"r7","lv":"7","x":0.80,"y":0.57},{"c":"r7","lv":"7","x":0.98,"y":0.58},{"c":"r7","lv":"7","x":1.16,"y":0.50},{"c":"r7","lv":"7","x":1.30,"y":0.38},{"c":"r7","lv":"7","x":1.42,"y":0.18},{"c":"r7","lv":"7","x":1.50,"y":-0.05},{"c":"r7","lv":"7","x":1.60,"y":-0.30},{"c":"r7","lv":"7","x":1.68,"y":-0.55},{"c":"r7","lv":"7","x":1.72,"y":-0.78},{"c":"r7","lv":"7","x":1.66,"y":-0.94},{"c":"r7","lv":"7","x":1.52,"y":-1.02},{"c":"r7","lv":"7","x":1.34,"y":-1.02},{"c":"r7","lv":"7","x":1.16,"y":-0.94},{"c":"r7","lv":"7","x":1.00,"y":-0.78},{"c":"r7","lv":"7","x":0.85,"y":-0.55},{"c":"r7","lv":"7","x":0.72,"y":-0.30},{"c":"r7","lv":"7","x":0.63,"y":-0.05},{"c":"r7","lv":"7","x":0.60,"y":0.20},
  {"c":"r8","lv":"8","x":0.64,"y":0.20},{"c":"r8","lv":"8","x":0.70,"y":0.40},{"c":"r8","lv":"8","x":0.82,"y":0.49},{"c":"r8","lv":"8","x":0.98,"y":0.50},{"c":"r8","lv":"8","x":1.14,"y":0.44},{"c":"r8","lv":"8","x":1.28,"y":0.32},{"c":"r8","lv":"8","x":1.38,"y":0.14},{"c":"r8","lv":"8","x":1.46,"y":-0.08},{"c":"r8","lv":"8","x":1.56,"y":-0.32},{"c":"r8","lv":"8","x":1.64,"y":-0.56},{"c":"r8","lv":"8","x":1.68,"y":-0.78},{"c":"r8","lv":"8","x":1.62,"y":-0.92},{"c":"r8","lv":"8","x":1.48,"y":-0.98},{"c":"r8","lv":"8","x":1.32,"y":-0.97},{"c":"r8","lv":"8","x":1.17,"y":-0.88},{"c":"r8","lv":"8","x":1.03,"y":-0.72},{"c":"r8","lv":"8","x":0.90,"y":-0.50},{"c":"r8","lv":"8","x":0.77,"y":-0.27},{"c":"r8","lv":"8","x":0.67,"y":-0.04},{"c":"r8","lv":"8","x":0.64,"y":0.20},
  {"c":"r9","lv":"9","x":0.731,"y":0.144},{"c":"r9","lv":"9","x":0.821,"y":0.310},{"c":"r9","lv":"9","x":0.986,"y":0.333},{"c":"r9","lv":"9","x":1.136,"y":0.297},{"c":"r9","lv":"9","x":1.256,"y":0.227},{"c":"r9","lv":"9","x":1.316,"y":0.117},{"c":"r9","lv":"9","x":1.361,"y":-0.050},{"c":"r9","lv":"9","x":1.420,"y":-0.245},{"c":"r9","lv":"9","x":1.510,"y":-0.412},{"c":"r9","lv":"9","x":1.616,"y":-0.578},{"c":"r9","lv":"9","x":1.630,"y":-0.745},{"c":"r9","lv":"9","x":1.540,"y":-0.882},{"c":"r9","lv":"9","x":1.406,"y":-0.925},{"c":"r9","lv":"9","x":1.271,"y":-0.869},{"c":"r9","lv":"9","x":1.166,"y":-0.717},{"c":"r9","lv":"9","x":1.046,"y":-0.494},{"c":"r9","lv":"9","x":0.926,"y":-0.272},{"c":"r9","lv":"9","x":0.806,"y":-0.079},{"c":"r9","lv":"9","x":0.731,"y":0.144},
  {"c":"r10","lv":"10","x":0.831,"y":0.131},{"c":"r10","lv":"10","x":0.948,"y":0.230},{"c":"r10","lv":"10","x":1.081,"y":0.218},{"c":"r10","lv":"10","x":1.164,"y":0.131},{"c":"r10","lv":"10","x":1.231,"y":-0.054},{"c":"r10","lv":"10","x":1.331,"y":-0.269},{"c":"r10","lv":"10","x":1.464,"y":-0.485},{"c":"r10","lv":"10","x":1.564,"y":-0.670},{"c":"r10","lv":"10","x":1.547,"y":-0.824},{"c":"r10","lv":"10","x":1.431,"y":-0.870},{"c":"r10","lv":"10","x":1.314,"y":-0.794},{"c":"r10","lv":"10","x":1.231,"y":-0.609},{"c":"r10","lv":"10","x":1.131,"y":-0.392},{"c":"r10","lv":"10","x":1.014,"y":-0.177},{"c":"r10","lv":"10","x":0.898,"y":-0.022},{"c":"r10","lv":"10","x":0.831,"y":0.131},
  {"c":"rb","lv":"1","x":1.62,"y":-2.85},{"c":"rb","lv":"1","x":1.657,"y":-2.49},{"c":"rb","lv":"1","x":1.63,"y":-2.30},{"c":"rb","lv":"1","x":1.68,"y":-2.20},{"c":"rb","lv":"1","x":1.747,"y":-2.156},{"c":"rb","lv":"1","x":1.83,"y":-2.165},{"c":"rb","lv":"1","x":1.913,"y":-2.258},{"c":"rb","lv":"1","x":1.947,"y":-2.396},{"c":"rb","lv":"1","x":1.94,"y":-2.50},{"c":"rb","lv":"1","x":1.92,"y":-2.85}
 ],
 "scree": [
  {"Order":0,"Eval":2.93},{"Order":1,"Eval":0.91},{"Order":2,"Eval":0.135},{"Order":3,"Eval":0.025}
 ]
},
"spacing": 24,
"vconcat": [
 {
  "spacing": 13,
  "resolve": {"scale": {"color": "independent"}, "legend": {"color": "independent"}},
  "hconcat": [
   {
    "width": 658, "height": 658,
    "title": {"text": "Iris data"},
    "data": {"name": "iris"},
    "resolve": {"axis": {"x": "independent", "y": "independent"}},
    "layer": [
     {
      "mark": {"type": "circle", "size": 88, "opacity": 1},
      "encoding": {
       "x": {"field": "SepalLength", "type": "quantitative", "scale": {"domain": [4.115, 8.078], "nice": false, "zero": false},
             "axis": {"orient": "bottom", "values": [5, 6, 7, 8], "title": "Sepal.Length", "tickSize": -14, "labelPadding": 61, "labelBaseline": "alphabetic", "titleY": 101, "titleBaseline": "alphabetic", "grid": true}},
       "y": {"field": "SepalWidth", "type": "quantitative", "scale": {"domain": [1.883, 4.528], "nice": false, "zero": false},
             "axis": {"orient": "left", "values": [2, 3, 4], "title": "Sepal.Width", "tickSize": -14, "labelPadding": 29, "titleX": -70, "titleBaseline": "middle", "grid": true}},
       "color": {"field": "Species", "type": "nominal", "scale": {"domain": ["setosa", "versicolor", "virginica"], "range": ["#000000", "#ff0000", "#ee7011"]}, "legend": {"title": null}}
      }
     },
     {
      "mark": {"type": "circle", "opacity": 0},
      "encoding": {
       "x": {"field": "SepalLength", "type": "quantitative", "scale": {"domain": [4.115, 8.078], "nice": false, "zero": false},
             "axis": {"orient": "bottom", "values": [4.2, 4.4, 4.6, 4.8, 5.2, 5.4, 5.6, 5.8, 6.2, 6.4, 6.6, 6.8, 7.2, 7.4, 7.6, 7.8], "title": null, "labels": false, "domain": false, "grid": false, "tickSize": -7}},
       "y": {"field": "SepalWidth", "type": "quantitative", "scale": {"domain": [1.883, 4.528], "nice": false, "zero": false},
             "axis": {"orient": "left", "values": [2.2, 2.4, 2.6, 2.8, 3.2, 3.4, 3.6, 3.8, 4.2, 4.4], "title": null, "labels": false, "domain": false, "grid": false, "tickSize": -7}}
      }
     }
    ]
   },
   {
    "width": 657, "height": 658,
    "title": {"text": "PC1 vs PC2"},
    "resolve": {"axis": {"x": "independent", "y": "independent"}},
    "layer": [
     {
      "data": {"name": "contours"},
      "mark": {"type": "line", "strokeWidth": 2, "clip": true},
      "encoding": {
       "x": {"field": "x", "type": "quantitative", "scale": {"domain": [-3.615, 2.955], "nice": false, "zero": false},
             "axis": {"orient": "bottom", "values": [-3.2, -2.8, -2.4, -1.6, -1.2, -0.8, -0.4, 0.4, 0.8, 1.2, 1.6, 2.4, 2.8], "title": null, "labels": false, "domain": false, "grid": false, "tickSize": -7}},
       "y": {"field": "y", "type": "quantitative", "scale": {"domain": [-2.755, 3.32], "nice": false, "zero": false},
             "axis": {"orient": "left", "values": [-2.4, -1.6, -1.2, -0.8, -0.4, 0.4, 0.8, 1.2, 1.6, 2.4, 2.8, 3.2], "title": null, "labels": false, "domain": false, "grid": false, "tickSize": -7}},
       "stroke": {"field": "lv", "type": "nominal", "scale": {"domain": ["1", "2", "3", "4", "5", "6", "7", "8", "9", "10"], "range": ["#1e62e6", "#1eaaf0", "#1ed8e6", "#1ee6aa", "#1ee664", "#4ce61e", "#a0e61e", "#e6e61e", "#ffb000", "#ff7800"]}, "legend": null},
       "detail": {"field": "c", "type": "nominal"},
       "order": {"value": null}
      }
     },
     {
      "data": {"name": "pca"},
      "mark": {"type": "circle", "size": 88, "opacity": 1},
      "encoding": {
       "x": {"field": "PC1", "type": "quantitative", "scale": {"domain": [-3.615, 2.955], "nice": false, "zero": false},
             "axis": {"orient": "bottom", "values": [-2, 0, 2], "title": "PC1", "tickSize": -14, "labelPadding": 61, "labelBaseline": "alphabetic", "titleY": 101, "titleBaseline": "alphabetic", "grid": true, "labelExpr": "replace(datum.label, '\u2212', '-')"}},
       "y": {"field": "PC2", "type": "quantitative", "scale": {"domain": [-2.755, 3.32], "nice": false, "zero": false},
             "axis": {"orient": "left", "values": [-2, 0, 2], "title": "PC2", "tickSize": -14, "labelPadding": 31, "titleX": -86, "titleBaseline": "middle", "grid": true, "labelExpr": "replace(datum.label, '\u2212', '-')"}},
       "color": {"field": "Species", "type": "nominal", "scale": {"domain": ["setosa", "versicolor", "virginica"], "range": ["#000000", "#ff0000", "#ee7011"]}, "legend": {"title": null}}
      }
     },
     {
      "data": {"name": "pca"},
      "mark": {"type": "text", "fontSize": 13.5, "align": "left", "baseline": "bottom", "dx": 4, "dy": -4, "color": "black"},
      "encoding": {
       "x": {"field": "PC1", "type": "quantitative", "axis": null},
       "y": {"field": "PC2", "type": "quantitative", "axis": null},
       "text": {"field": "code", "type": "nominal"}
      }
     }
    ]
   }
  ]
 },
 {
  "width": 658, "height": 658,
  "title": {"text": "Scree"},
  "data": {"name": "scree"},
  "resolve": {"axis": {"x": "independent", "y": "independent"}},
  "layer": [
   {
    "mark": {"type": "line", "color": "black", "strokeWidth": 1.5},
    "encoding": {
     "x": {"field": "Order", "type": "quantitative", "scale": {"domain": [0, 3], "nice": false, "zero": false},
           "axis": {"orient": "bottom", "values": [0, 1, 2, 3], "title": "Order", "tickSize": -14, "labelPadding": 61, "labelBaseline": "alphabetic", "titleY": 101, "titleBaseline": "alphabetic", "grid": true}},
     "y": {"field": "Eval", "type": "quantitative", "scale": {"domain": [-0.122, 3.081], "nice": false, "zero": false},
           "axis": {"orient": "left", "values": [0, 1, 2, 3], "title": "Eval", "tickSize": -14, "labelPadding": 29, "titleX": -70, "titleBaseline": "middle", "grid": true}}
    }
   },
   {
    "mark": {"type": "line", "opacity": 0},
    "encoding": {
     "x": {"field": "Order", "type": "quantitative", "scale": {"domain": [0, 3], "nice": false, "zero": false},
           "axis": {"orient": "bottom", "values": [0.2, 0.4, 0.6, 0.8, 1.2, 1.4, 1.6, 1.8, 2.2, 2.4, 2.6, 2.8], "title": null, "labels": false, "domain": false, "grid": false, "tickSize": -7}},
     "y": {"field": "Eval", "type": "quantitative", "scale": {"domain": [-0.122, 3.081], "nice": false, "zero": false},
           "axis": {"orient": "left", "values": [0.2, 0.4, 0.6, 0.8, 1.2, 1.4, 1.6, 1.8, 2.2, 2.4, 2.6, 2.8], "title": null, "labels": false, "domain": false, "grid": false, "tickSize": -7}}
    }
   }
  ]
 }
]
}
